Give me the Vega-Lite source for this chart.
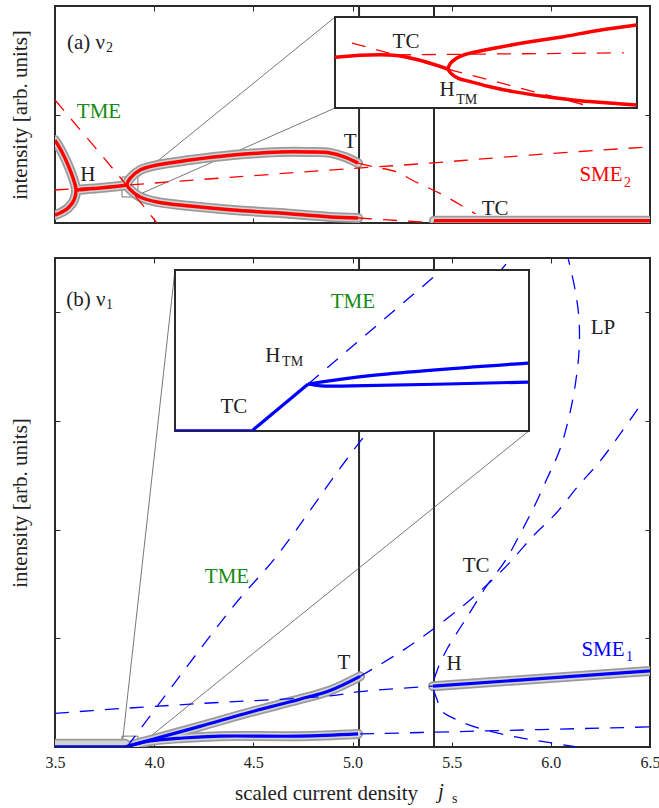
{
"$schema": "https://vega.github.io/schema/vega-lite/v6.json",
"padding": {"left": 8, "top": 4, "right": 0, "bottom": 0},
"spacing": 31,
"config": {
  "font": "Liberation Serif",
  "view": {"stroke": "#2a2a2a", "strokeWidth": 2},
  "axis": {"domain": false, "grid": false, "tickSize": -5, "tickColor": "#2a2a2a", "tickWidth": 1, "labels": false,
           "titleFont": "Liberation Serif", "titleFontSize": 21, "titleFontWeight": "normal", "titleColor": "#222",
           "labelFont": "Liberation Serif", "labelFontSize": 16, "labelColor": "#222", "zindex": 1}
},
"datasets": {
  "A": [
    {"s":"loop","i":0,"j":3.5,"v":3.82},{"s":"loop","i":1,"j":3.535,"v":3.27},{"s":"loop","i":2,"j":3.566,"v":2.67},{"s":"loop","i":3,"j":3.591,"v":2.07},{"s":"loop","i":4,"j":3.606,"v":1.52},{"s":"loop","i":5,"j":3.596,"v":1.06},{"s":"loop","i":6,"j":3.566,"v":0.69},{"s":"loop","i":7,"j":3.525,"v":0.46},{"s":"loop","i":8,"j":3.5,"v":0.37},
    {"s":"stem","i":0,"j":3.606,"v":1.52},{"s":"stem","i":1,"j":3.727,"v":1.61},{"s":"stem","i":2,"j":3.838,"v":1.72},{"s":"stem","i":3,"j":3.863,"v":1.75},
    {"s":"fork","i":0,"j":5.028,"v":0.23},{"s":"fork","i":1,"j":4.887,"v":0.28},{"s":"fork","i":2,"j":4.635,"v":0.46},{"s":"fork","i":3,"j":4.397,"v":0.6},{"s":"fork","i":4,"j":4.181,"v":0.78},{"s":"fork","i":5,"j":4.014,"v":0.97},{"s":"fork","i":6,"j":3.929,"v":1.2},{"s":"fork","i":7,"j":3.878,"v":1.55},{"s":"fork","i":8,"j":3.863,"v":1.75},{"s":"fork","i":9,"j":3.878,"v":2.05},{"s":"fork","i":10,"j":3.929,"v":2.44},{"s":"fork","i":11,"j":4.014,"v":2.67},{"s":"fork","i":12,"j":4.181,"v":2.9},{"s":"fork","i":13,"j":4.397,"v":3.13},{"s":"fork","i":14,"j":4.635,"v":3.27},{"s":"fork","i":15,"j":4.786,"v":3.27},{"s":"fork","i":16,"j":4.887,"v":3.23},{"s":"fork","i":17,"j":4.962,"v":3.04},{"s":"fork","i":18,"j":5.028,"v":2.76},
    {"s":"stab","i":0,"j":5.411,"v":0.1},{"s":"stab","i":1,"j":6.5,"v":0.1},
    {"s":"tme","i":0,"j":3.5,"v":5.67},{"s":"tme","i":1,"j":3.863,"v":1.72},{"s":"tme","i":2,"j":4.014,"v":0},
    {"s":"sme","i":0,"j":3.5,"v":1.52},{"s":"sme","i":1,"j":3.863,"v":1.75},{"s":"sme","i":2,"j":4.231,"v":2.0},{"s":"sme","i":3,"j":4.887,"v":2.44},{"s":"sme","i":4,"j":5.391,"v":2.76},{"s":"sme","i":5,"j":5.895,"v":3.13},{"s":"sme","i":6,"j":6.5,"v":3.51},
    {"s":"tl","i":0,"j":5.028,"v":2.76},{"s":"tl","i":1,"j":5.113,"v":2.58},{"s":"tl","i":2,"j":5.224,"v":2.35},{"s":"tl","i":3,"j":5.3,"v":1.98},{"s":"tl","i":4,"j":5.456,"v":1.29},{"s":"tl","i":5,"j":5.62,"v":0.42},
    {"s":"bot","i":0,"j":5.028,"v":0.23},{"s":"bot","i":1,"j":5.305,"v":0.07},{"s":"bot","i":2,"j":5.411,"v":0.02},
    {"s":"box","i":0,"j":3.838,"v":1.2},{"s":"box","i":1,"j":3.918,"v":1.2},{"s":"box","i":2,"j":3.918,"v":2.12},{"s":"box","i":3,"j":3.838,"v":2.12},{"s":"box","i":4,"j":3.838,"v":1.2},
    {"s":"c1","i":0,"j":3.918,"v":2.12},{"s":"c1","i":1,"j":4.912,"v":9.49},
    {"s":"c2","i":0,"j":3.918,"v":1.29},{"s":"c2","i":1,"j":4.912,"v":5.3}
  ],
  "AI": [
    {"s":"s1","i":0,"u":0,"w":2.79},{"s":"s1","i":1,"u":1.64,"w":2.88},{"s":"s1","i":2,"u":3.0,"w":2.13},
    {"s":"s2","i":0,"u":7.99,"w":0.16},{"s":"s2","i":1,"u":7.37,"w":0.26},{"s":"s2","i":2,"u":6.49,"w":0.4},{"s":"s2","i":3,"u":5.61,"w":0.62},{"s":"s2","i":4,"u":4.72,"w":0.9},{"s":"s2","i":5,"u":4.02,"w":1.21},{"s":"s2","i":6,"u":3.58,"w":1.45},{"s":"s2","i":7,"u":3.27,"w":1.63},{"s":"s2","i":8,"u":3.09,"w":1.87},{"s":"s2","i":9,"u":3.0,"w":2.13},{"s":"s2","i":10,"u":3.06,"w":2.46},{"s":"s2","i":11,"u":3.18,"w":2.68},{"s":"s2","i":12,"u":3.4,"w":2.91},{"s":"s2","i":13,"u":3.75,"w":3.09},{"s":"s2","i":14,"u":4.28,"w":3.31},{"s":"s2","i":15,"u":5.17,"w":3.64},{"s":"s2","i":16,"u":6.05,"w":3.92},{"s":"s2","i":17,"u":6.93,"w":4.25},{"s":"s2","i":18,"u":7.99,"w":4.56},
    {"s":"d1","i":0,"u":0.45,"w":3.57},{"s":"d1","i":1,"u":3.0,"w":2.13},{"s":"d1","i":2,"u":6.83,"w":0.05},
    {"s":"d2","i":0,"u":1.64,"w":2.92},{"s":"d2","i":1,"u":7.65,"w":3.03}
  ],
  "B": [
    {"s":"b0g","i":0,"j":3.5,"v":0.03},{"s":"b0g","i":1,"j":3.853,"v":0.03},
    {"s":"b0","i":0,"j":3.5,"v":0.006},{"s":"b0","i":1,"j":3.853,"v":0.006},
    {"s":"lo","i":0,"j":3.853,"v":0},{"s":"lo","i":1,"j":3.979,"v":0.055},{"s":"lo","i":2,"j":4.145,"v":0.083},{"s":"lo","i":3,"j":4.332,"v":0.1},{"s":"lo","i":4,"j":4.735,"v":0.1},{"s":"lo","i":5,"j":5.028,"v":0.12},
    {"s":"up","i":0,"j":3.853,"v":0},{"s":"up","i":1,"j":3.979,"v":0.064},{"s":"up","i":2,"j":4.231,"v":0.19},{"s":"up","i":3,"j":4.483,"v":0.32},{"s":"up","i":4,"j":4.735,"v":0.44},{"s":"up","i":5,"j":4.887,"v":0.52},{"s":"up","i":6,"j":5.038,"v":0.65},
    {"s":"rt","i":0,"j":5.406,"v":0.56},{"s":"rt","i":1,"j":6.5,"v":0.7},
    {"s":"tme","i":0,"j":3.863,"v":0},{"s":"tme","i":1,"j":4.397,"v":1.29},{"s":"tme","i":2,"j":4.619,"v":1.76},{"s":"tme","i":3,"j":5.038,"v":2.81},{"s":"tme","i":4,"j":5.8,"v":4.5},
    {"s":"hl","i":0,"j":3.5,"v":0.31},{"s":"hl","i":1,"j":3.803,"v":0.35},{"s":"hl","i":2,"j":4.231,"v":0.4},{"s":"hl","i":3,"j":4.887,"v":0.47},{"s":"hl","i":4,"j":5.038,"v":0.51},{"s":"hl","i":5,"j":5.406,"v":0.56},
    {"s":"tl","i":0,"j":5.038,"v":0.65},{"s":"tl","i":1,"j":5.28,"v":0.92},{"s":"tl","i":2,"j":5.552,"v":1.29},{"s":"tl","i":3,"j":5.683,"v":1.5},{"s":"tl","i":4,"j":5.794,"v":1.7},{"s":"tl","i":5,"j":5.91,"v":1.94},{"s":"tl","i":6,"j":6.031,"v":2.16},{"s":"tl","i":7,"j":6.137,"v":2.4},{"s":"tl","i":8,"j":6.248,"v":2.63},{"s":"tl","i":9,"j":6.349,"v":2.88},{"s":"tl","i":10,"j":6.45,"v":3.14},
    {"s":"lp","i":0,"j":6.132,"v":0},{"s":"lp","i":1,"j":5.996,"v":0.04},{"s":"lp","i":2,"j":5.83,"v":0.09},{"s":"lp","i":3,"j":5.643,"v":0.17},{"s":"lp","i":4,"j":5.527,"v":0.25},{"s":"lp","i":5,"j":5.451,"v":0.33},{"s":"lp","i":6,"j":5.426,"v":0.44},{"s":"lp","i":7,"j":5.406,"v":0.56},{"s":"lp","i":8,"j":5.426,"v":0.7},{"s":"lp","i":9,"j":5.476,"v":0.9},{"s":"lp","i":10,"j":5.572,"v":1.18},{"s":"lp","i":11,"j":5.683,"v":1.5},{"s":"lp","i":12,"j":5.769,"v":1.71},{"s":"lp","i":13,"j":5.845,"v":1.96},{"s":"lp","i":14,"j":5.91,"v":2.19},{"s":"lp","i":15,"j":5.981,"v":2.47},{"s":"lp","i":16,"j":6.046,"v":2.74},{"s":"lp","i":17,"j":6.092,"v":3.04},{"s":"lp","i":18,"j":6.122,"v":3.32},{"s":"lp","i":19,"j":6.142,"v":3.64},{"s":"lp","i":20,"j":6.142,"v":3.94},{"s":"lp","i":21,"j":6.122,"v":4.21},{"s":"lp","i":22,"j":6.087,"v":4.5},
    {"s":"bt","i":0,"j":5.038,"v":0.12},{"s":"bt","i":1,"j":5.492,"v":0.14},{"s":"bt","i":2,"j":6.5,"v":0.185},
    {"s":"box","i":0,"j":3.838,"v":0},{"s":"box","i":1,"j":3.918,"v":0},{"s":"box","i":2,"j":3.918,"v":0.1},{"s":"box","i":3,"j":3.838,"v":0.1},{"s":"box","i":4,"j":3.838,"v":0},
    {"s":"c1","i":0,"j":3.838,"v":0.01},{"s":"c1","i":1,"j":4.105,"v":4.39},
    {"s":"c2","i":0,"j":3.918,"v":0.005},{"s":"c2","i":1,"j":5.89,"v":2.91}
  ],
  "BI": [
    {"s":"k0","i":0,"u":0,"w":0.03},{"s":"k0","i":1,"u":1.76,"w":0.03},
    {"s":"k1","i":0,"u":1.76,"w":0.03},{"s":"k1","i":1,"u":3.01,"w":1.46},
    {"s":"k2","i":0,"u":3.01,"w":1.46},{"s":"k2","i":1,"u":4.41,"w":1.72},{"s":"k2","i":2,"u":7.98,"w":2.11},
    {"s":"k3","i":0,"u":3.01,"w":1.46},{"s":"k3","i":1,"u":3.3,"w":1.4},{"s":"k3","i":2,"u":4.0,"w":1.4},{"s":"k3","i":3,"u":7.98,"w":1.52},
    {"s":"l1","i":0,"u":3.01,"w":1.46},{"s":"l1","i":1,"u":6.03,"w":5.0}
  ],
  "LA": [
    {"t":"(a) ν","g":"k","j":3.656,"v":8.29},{"t":"TME","g":"g","j":3.722,"v":5.12},{"t":"H","g":"k","j":3.666,"v":2.21},
    {"t":"T","g":"k","j":4.988,"v":3.73},{"t":"TC","g":"k","j":5.719,"v":0.65},{"t":"SME","g":"r","j":6.253,"v":2.21}
  ],
  "SA": [{"t":"2","g":"k","j":3.757,"v":8.06},{"t":"2","g":"r","j":6.369,"v":1.84}],
  "LAI": [{"t":"TC","g":"k","u":1.88,"w":3.63},{"t":"H","g":"k","u":2.97,"w":0.99}],
  "SAI": [{"t":"TM","g":"k","u":3.21,"w":0.44}],
  "LB": [
    {"t":"(b) ν","g":"k","j":3.656,"v":4.11},{"t":"LP","g":"k","j":6.263,"v":3.86},{"t":"TME","g":"g","j":4.367,"v":1.56},
    {"t":"TC","g":"k","j":5.623,"v":1.67},{"t":"T","g":"k","j":4.957,"v":0.77},{"t":"H","g":"k","j":5.512,"v":0.76},{"t":"SME","g":"b","j":6.263,"v":0.89}
  ],
  "SB": [{"t":"1","g":"k","j":3.757,"v":4.07},{"t":"1","g":"b","j":6.379,"v":0.83},{"t":"s","g":"k","j":5.502,"v":-0.478}],
  "IB": [{"t":"j","g":"k","j":5.446,"v":-0.414}],
  "LBI": [{"t":"TME","g":"g","u":4.02,"w":4.0},{"t":"H","g":"k","u":2.21,"w":2.33},{"t":"TC","g":"k","u":1.33,"w":0.75}],
  "SBI": [{"t":"TM","g":"k","u":2.42,"w":2.14}],
  "VL": [{"j":5.033},{"j":5.411}]
},
"vconcat": [
 {
  "width": 595, "height": 217,
  "resolve": {"scale": {"x": "independent", "y": "independent"}, "axis": {"x": "independent", "y": "independent"}},
  "layer": [
   {
    "resolve": {"axis": {"x": "independent", "y": "independent"}},
    "layer": [
     {"data": {"name": "VL"}, "mark": {"type": "rule", "color": "#2a2a2a", "strokeWidth": 2},
      "encoding": {"x": {"field":"j","type":"quantitative","scale":{"domain":[3.5,6.5],"nice":false,"zero":false},"axis":null}}},
     {"data": {"name": "A"}, "transform": [{"filter": {"field": "s", "oneOf": ["box","c1","c2"]}}],
      "mark": {"type": "line", "color": "#555", "strokeWidth": 0.8, "clip": true},
      "encoding": {"x": {"field":"j","type":"quantitative","scale":{"domain":[3.5,6.5],"nice":false,"zero":false},"axis":null},
                   "y": {"field":"v","type":"quantitative","scale":{"domain":[0,10],"nice":false,"zero":false},"axis":null},
                   "detail": {"field":"s"}, "order": {"field":"i","type":"quantitative"}}},
     {"data": {"name": "A"}, "transform": [{"filter": {"field": "s", "oneOf": ["loop","stem","fork","stab"]}}],
      "mark": {"type": "line", "color": "#9b9b9b", "strokeWidth": 10, "strokeCap": "round", "interpolate": "catmull-rom", "clip": true},
      "encoding": {"x": {"field":"j","type":"quantitative","scale":{"domain":[3.5,6.5],"nice":false,"zero":false},"axis":{"orient":"bottom","values":[3.5,4,4.5,5,5.5,6,6.5],"title":null}},
                   "y": {"field":"v","type":"quantitative","scale":{"domain":[0,10],"nice":false,"zero":false},"axis":{"orient":"left","values":[5],"title":"intensity [arb. units]","titleX":-25}},
                   "detail": {"field":"s"}, "order": {"field":"i","type":"quantitative"}}},
     {"data": {"name": "A"}, "transform": [{"filter": {"field": "s", "oneOf": ["loop","stem","fork","stab"]}}],
      "mark": {"type": "line", "color": "#d2d2d2", "strokeWidth": 6.5, "strokeCap": "round", "interpolate": "catmull-rom", "clip": true},
      "encoding": {"x": {"field":"j","type":"quantitative","scale":{"domain":[3.5,6.5],"nice":false,"zero":false},"axis":null},
                   "y": {"field":"v","type":"quantitative","scale":{"domain":[0,10],"nice":false,"zero":false},"axis":null},
                   "detail": {"field":"s"}, "order": {"field":"i","type":"quantitative"}}},
     {"data": {"name": "A"}, "transform": [{"filter": {"field": "s", "oneOf": ["loop","stem","fork","stab"]}}],
      "mark": {"type": "line", "color": "#ff0000", "strokeWidth": 3.5, "interpolate": "catmull-rom", "clip": true},
      "encoding": {"x": {"field":"j","type":"quantitative","scale":{"domain":[3.5,6.5],"nice":false,"zero":false},"axis":{"orient":"top","values":[3.5,4,4.5,5,5.5,6,6.5],"title":null}},
                   "y": {"field":"v","type":"quantitative","scale":{"domain":[0,10],"nice":false,"zero":false},"axis":{"orient":"right","values":[5],"title":null}},
                   "detail": {"field":"s"}, "order": {"field":"i","type":"quantitative"}}},
     {"data": {"name": "A"}, "transform": [{"filter": {"field": "s", "oneOf": ["tme","sme","tl","bot"]}}],
      "mark": {"type": "line", "color": "#ff0000", "strokeWidth": 1.3, "strokeDash": [14, 11], "interpolate": "catmull-rom", "clip": true},
      "encoding": {"x": {"field":"j","type":"quantitative","scale":{"domain":[3.5,6.5],"nice":false,"zero":false},"axis":null},
                   "y": {"field":"v","type":"quantitative","scale":{"domain":[0,10],"nice":false,"zero":false},"axis":null},
                   "detail": {"field":"s"}, "order": {"field":"i","type":"quantitative"}}},
     {"data": {"name": "LA"}, "mark": {"type": "text", "fontSize": 21, "align": "center", "baseline": "middle"},
      "encoding": {"x": {"field":"j","type":"quantitative","scale":{"domain":[3.5,6.5],"nice":false,"zero":false},"axis":null},
                   "y": {"field":"v","type":"quantitative","scale":{"domain":[0,10],"nice":false,"zero":false},"axis":null},
                   "text": {"field":"t"},
                   "color": {"field":"g","type":"nominal","scale":{"domain":["k","g","r","b"],"range":["#222222","#138a13","#ff0000","#0000ff"]},"legend":null}}},
     {"data": {"name": "SA"}, "mark": {"type": "text", "fontSize": 14, "align": "left", "baseline": "middle"},
      "encoding": {"x": {"field":"j","type":"quantitative","scale":{"domain":[3.5,6.5],"nice":false,"zero":false},"axis":null},
                   "y": {"field":"v","type":"quantitative","scale":{"domain":[0,10],"nice":false,"zero":false},"axis":null},
                   "text": {"field":"t"},
                   "color": {"field":"g","type":"nominal","scale":{"domain":["k","g","r","b"],"range":["#222222","#138a13","#ff0000","#0000ff"]},"legend":null}}}
    ]
   },
   {
    "resolve": {"axis": {"x": "independent", "y": "independent"}},
    "layer": [
     {"data": {"values": [{}]}, "mark": {"type": "rect", "fill": "white", "stroke": "#2a2a2a", "strokeWidth": 2},
      "encoding": {"x": {"datum": 0, "type":"quantitative","scale":{"domain":[0,8],"range":[280,582],"nice":false,"zero":false},"axis":null},
                   "x2": {"datum": 8},
                   "y": {"datum": 0, "type":"quantitative","scale":{"domain":[0,5],"range":[102,11],"nice":false,"zero":false},"axis":null},
                   "y2": {"datum": 5}}},
     {"data": {"name": "AI"}, "transform": [{"filter": {"field": "s", "oneOf": ["s1","s2"]}}],
      "mark": {"type": "line", "color": "#ff0000", "strokeWidth": 3.5, "interpolate": "catmull-rom"},
      "encoding": {"x": {"field":"u","type":"quantitative","scale":{"domain":[0,8],"range":[280,582],"nice":false,"zero":false},"axis":{"orient":"bottom","offset":-115,"values":[1,2,3,4,5,6,7],"tickSize":-4,"title":null}},
                   "y": {"field":"w","type":"quantitative","scale":{"domain":[0,5],"range":[102,11],"nice":false,"zero":false},"axis":{"orient":"left","offset":-280,"values":[1,2,3,4],"tickSize":-4,"title":null}},
                   "detail": {"field":"s"}, "order": {"field":"i","type":"quantitative"}}},
     {"data": {"name": "AI"}, "transform": [{"filter": {"field": "s", "oneOf": ["d1","d2"]}}],
      "mark": {"type": "line", "color": "#ff0000", "strokeWidth": 1.3, "strokeDash": [14, 11]},
      "encoding": {"x": {"field":"u","type":"quantitative","scale":{"domain":[0,8],"range":[280,582],"nice":false,"zero":false},"axis":{"orient":"top","offset":-11,"values":[1,2,3,4,5,6,7],"tickSize":-4,"title":null}},
                   "y": {"field":"w","type":"quantitative","scale":{"domain":[0,5],"range":[102,11],"nice":false,"zero":false},"axis":{"orient":"right","offset":-13,"values":[1,2,3,4],"tickSize":-4,"title":null}},
                   "detail": {"field":"s"}, "order": {"field":"i","type":"quantitative"}}},
     {"data": {"name": "LAI"}, "mark": {"type": "text", "fontSize": 21, "align": "center", "baseline": "middle"},
      "encoding": {"x": {"field":"u","type":"quantitative","scale":{"domain":[0,8],"range":[280,582],"nice":false,"zero":false},"axis":null},
                   "y": {"field":"w","type":"quantitative","scale":{"domain":[0,5],"range":[102,11],"nice":false,"zero":false},"axis":null},
                   "text": {"field":"t"},
                   "color": {"field":"g","type":"nominal","scale":{"domain":["k","g","r","b"],"range":["#222222","#138a13","#ff0000","#0000ff"]},"legend":null}}},
     {"data": {"name": "SAI"}, "mark": {"type": "text", "fontSize": 14, "align": "left", "baseline": "middle"},
      "encoding": {"x": {"field":"u","type":"quantitative","scale":{"domain":[0,8],"range":[280,582],"nice":false,"zero":false},"axis":null},
                   "y": {"field":"w","type":"quantitative","scale":{"domain":[0,5],"range":[102,11],"nice":false,"zero":false},"axis":null},
                   "text": {"field":"t"},
                   "color": {"field":"g","type":"nominal","scale":{"domain":["k","g","r","b"],"range":["#222222","#138a13","#ff0000","#0000ff"]},"legend":null}}}
    ]
   }
  ]
 },
 {
  "width": 595, "height": 489,
  "resolve": {"scale": {"x": "independent", "y": "independent"}, "axis": {"x": "independent", "y": "independent"}},
  "layer": [
   {
    "resolve": {"axis": {"x": "independent", "y": "independent"}},
    "layer": [
     {"data": {"name": "VL"}, "mark": {"type": "rule", "color": "#2a2a2a", "strokeWidth": 2},
      "encoding": {"x": {"field":"j","type":"quantitative","scale":{"domain":[3.5,6.5],"nice":false,"zero":false},"axis":null}}},
     {"data": {"name": "B"}, "transform": [{"filter": {"field": "s", "oneOf": ["box","c1","c2"]}}],
      "mark": {"type": "line", "color": "#555", "strokeWidth": 0.8, "clip": true},
      "encoding": {"x": {"field":"j","type":"quantitative","scale":{"domain":[3.5,6.5],"nice":false,"zero":false},"axis":null},
                   "y": {"field":"v","type":"quantitative","scale":{"domain":[0,4.5],"nice":false,"zero":false},"axis":null},
                   "detail": {"field":"s"}, "order": {"field":"i","type":"quantitative"}}},
     {"data": {"name": "B"}, "transform": [{"filter": {"field": "s", "oneOf": ["b0g","lo","up","rt"]}}],
      "mark": {"type": "line", "color": "#9b9b9b", "strokeWidth": 10, "strokeCap": "round", "interpolate": "catmull-rom", "clip": true},
      "encoding": {"x": {"field":"j","type":"quantitative","scale":{"domain":[3.5,6.5],"nice":false,"zero":false},
                         "axis":{"orient":"bottom","values":[3.5,4,4.5,5,5.5,6,6.5],"labels":true,"format":".1f","labelFlush":false,"labelPadding":12,
                                 "title":"scaled current density","titleX":271,"titleY":46,"titleBaseline":"middle","titleAlign":"center"}},
                   "y": {"field":"v","type":"quantitative","scale":{"domain":[0,4.5],"nice":false,"zero":false},"axis":{"orient":"left","values":[1,2,3,4],"title":"intensity [arb. units]","titleX":-25}},
                   "detail": {"field":"s"}, "order": {"field":"i","type":"quantitative"}}},
     {"data": {"name": "B"}, "transform": [{"filter": {"field": "s", "oneOf": ["b0g","lo","up","rt"]}}],
      "mark": {"type": "line", "color": "#d2d2d2", "strokeWidth": 6.5, "strokeCap": "round", "interpolate": "catmull-rom", "clip": true},
      "encoding": {"x": {"field":"j","type":"quantitative","scale":{"domain":[3.5,6.5],"nice":false,"zero":false},"axis":null},
                   "y": {"field":"v","type":"quantitative","scale":{"domain":[0,4.5],"nice":false,"zero":false},"axis":null},
                   "detail": {"field":"s"}, "order": {"field":"i","type":"quantitative"}}},
     {"data": {"name": "B"}, "transform": [{"filter": {"field": "s", "oneOf": ["lo","up","rt"]}}],
      "mark": {"type": "line", "color": "#0000ff", "strokeWidth": 3.2, "interpolate": "catmull-rom", "clip": true},
      "encoding": {"x": {"field":"j","type":"quantitative","scale":{"domain":[3.5,6.5],"nice":false,"zero":false},"axis":{"orient":"top","values":[3.5,4,4.5,5,5.5,6,6.5],"title":null}},
                   "y": {"field":"v","type":"quantitative","scale":{"domain":[0,4.5],"nice":false,"zero":false},"axis":{"orient":"right","values":[1,2,3,4],"title":null}},
                   "detail": {"field":"s"}, "order": {"field":"i","type":"quantitative"}}},
     {"data": {"name": "B"}, "transform": [{"filter": {"field": "s", "oneOf": ["b0"]}}],
      "mark": {"type": "line", "color": "#0000ff", "strokeWidth": 2, "clip": true},
      "encoding": {"x": {"field":"j","type":"quantitative","scale":{"domain":[3.5,6.5],"nice":false,"zero":false},"axis":null},
                   "y": {"field":"v","type":"quantitative","scale":{"domain":[0,4.5],"nice":false,"zero":false},"axis":null},
                   "detail": {"field":"s"}, "order": {"field":"i","type":"quantitative"}}},
     {"data": {"name": "B"}, "transform": [{"filter": {"field": "s", "oneOf": ["tme","hl","tl","lp","bt"]}}],
      "mark": {"type": "line", "color": "#0000ff", "strokeWidth": 1.3, "strokeDash": [14, 11], "interpolate": "catmull-rom", "clip": true},
      "encoding": {"x": {"field":"j","type":"quantitative","scale":{"domain":[3.5,6.5],"nice":false,"zero":false},"axis":null},
                   "y": {"field":"v","type":"quantitative","scale":{"domain":[0,4.5],"nice":false,"zero":false},"axis":null},
                   "detail": {"field":"s"}, "order": {"field":"i","type":"quantitative"}}},
     {"data": {"name": "LB"}, "mark": {"type": "text", "fontSize": 21, "align": "center", "baseline": "middle"},
      "encoding": {"x": {"field":"j","type":"quantitative","scale":{"domain":[3.5,6.5],"nice":false,"zero":false},"axis":null},
                   "y": {"field":"v","type":"quantitative","scale":{"domain":[0,4.5],"nice":false,"zero":false},"axis":null},
                   "text": {"field":"t"},
                   "color": {"field":"g","type":"nominal","scale":{"domain":["k","g","r","b"],"range":["#222222","#138a13","#ff0000","#0000ff"]},"legend":null}}},
     {"data": {"name": "IB"}, "mark": {"type": "text", "fontSize": 21, "fontStyle": "italic", "align": "center", "baseline": "middle"},
      "encoding": {"x": {"field":"j","type":"quantitative","scale":{"domain":[3.5,6.5],"nice":false,"zero":false},"axis":null},
                   "y": {"field":"v","type":"quantitative","scale":{"domain":[0,4.5],"nice":false,"zero":false},"axis":null},
                   "text": {"field":"t"},
                   "color": {"field":"g","type":"nominal","scale":{"domain":["k","g","r","b"],"range":["#222222","#138a13","#ff0000","#0000ff"]},"legend":null}}},
     {"data": {"name": "SB"}, "mark": {"type": "text", "fontSize": 14, "align": "left", "baseline": "middle"},
      "encoding": {"x": {"field":"j","type":"quantitative","scale":{"domain":[3.5,6.5],"nice":false,"zero":false},"axis":null},
                   "y": {"field":"v","type":"quantitative","scale":{"domain":[0,4.5],"nice":false,"zero":false},"axis":null},
                   "text": {"field":"t"},
                   "color": {"field":"g","type":"nominal","scale":{"domain":["k","g","r","b"],"range":["#222222","#138a13","#ff0000","#0000ff"]},"legend":null}}}
    ]
   },
   {
    "resolve": {"axis": {"x": "independent", "y": "independent"}},
    "layer": [
     {"data": {"values": [{}]}, "mark": {"type": "rect", "fill": "white", "stroke": "#2a2a2a", "strokeWidth": 2},
      "encoding": {"x": {"datum": 0, "type":"quantitative","scale":{"domain":[0,8],"range":[120,474],"nice":false,"zero":false},"axis":null},
                   "x2": {"datum": 8},
                   "y": {"datum": 0, "type":"quantitative","scale":{"domain":[0,5],"range":[173,12],"nice":false,"zero":false},"axis":null},
                   "y2": {"datum": 5}}},
     {"data": {"name": "BI"}, "transform": [{"filter": {"field": "s", "oneOf": ["k0"]}}],
      "mark": {"type": "line", "color": "#0000ff", "strokeWidth": 1.5},
      "encoding": {"x": {"field":"u","type":"quantitative","scale":{"domain":[0,8],"range":[120,474],"nice":false,"zero":false},"axis":null},
                   "y": {"field":"w","type":"quantitative","scale":{"domain":[0,5],"range":[173,12],"nice":false,"zero":false},"axis":null},
                   "detail": {"field":"s"}, "order": {"field":"i","type":"quantitative"}}},
     {"data": {"name": "BI"}, "transform": [{"filter": {"field": "s", "oneOf": ["k1","k2","k3"]}}],
      "mark": {"type": "line", "color": "#0000ff", "strokeWidth": 3.2, "interpolate": "catmull-rom"},
      "encoding": {"x": {"field":"u","type":"quantitative","scale":{"domain":[0,8],"range":[120,474],"nice":false,"zero":false},"axis":{"orient":"bottom","offset":-316,"values":[1,2,3,4,5,6,7],"tickSize":-4,"title":null}},
                   "y": {"field":"w","type":"quantitative","scale":{"domain":[0,5],"range":[173,12],"nice":false,"zero":false},"axis":{"orient":"left","offset":-120,"values":[1,2,3,4],"tickSize":-4,"title":null}},
                   "detail": {"field":"s"}, "order": {"field":"i","type":"quantitative"}}},
     {"data": {"name": "BI"}, "transform": [{"filter": {"field": "s", "oneOf": ["l1"]}}],
      "mark": {"type": "line", "color": "#0000ff", "strokeWidth": 1.3, "strokeDash": [14, 11]},
      "encoding": {"x": {"field":"u","type":"quantitative","scale":{"domain":[0,8],"range":[120,474],"nice":false,"zero":false},"axis":{"orient":"top","offset":-12,"values":[1,2,3,4,5,6,7],"tickSize":-4,"title":null}},
                   "y": {"field":"w","type":"quantitative","scale":{"domain":[0,5],"range":[173,12],"nice":false,"zero":false},"axis":{"orient":"right","offset":-121,"values":[1,2,3,4],"tickSize":-4,"title":null}},
                   "detail": {"field":"s"}, "order": {"field":"i","type":"quantitative"}}},
     {"data": {"name": "LBI"}, "mark": {"type": "text", "fontSize": 21, "align": "center", "baseline": "middle"},
      "encoding": {"x": {"field":"u","type":"quantitative","scale":{"domain":[0,8],"range":[120,474],"nice":false,"zero":false},"axis":null},
                   "y": {"field":"w","type":"quantitative","scale":{"domain":[0,5],"range":[173,12],"nice":false,"zero":false},"axis":null},
                   "text": {"field":"t"},
                   "color": {"field":"g","type":"nominal","scale":{"domain":["k","g","r","b"],"range":["#222222","#138a13","#ff0000","#0000ff"]},"legend":null}}},
     {"data": {"name": "SBI"}, "mark": {"type": "text", "fontSize": 14, "align": "left", "baseline": "middle"},
      "encoding": {"x": {"field":"u","type":"quantitative","scale":{"domain":[0,8],"range":[120,474],"nice":false,"zero":false},"axis":null},
                   "y": {"field":"w","type":"quantitative","scale":{"domain":[0,5],"range":[173,12],"nice":false,"zero":false},"axis":null},
                   "text": {"field":"t"},
                   "color": {"field":"g","type":"nominal","scale":{"domain":["k","g","r","b"],"range":["#222222","#138a13","#ff0000","#0000ff"]},"legend":null}}}
    ]
   }
  ]
 }
]
}
